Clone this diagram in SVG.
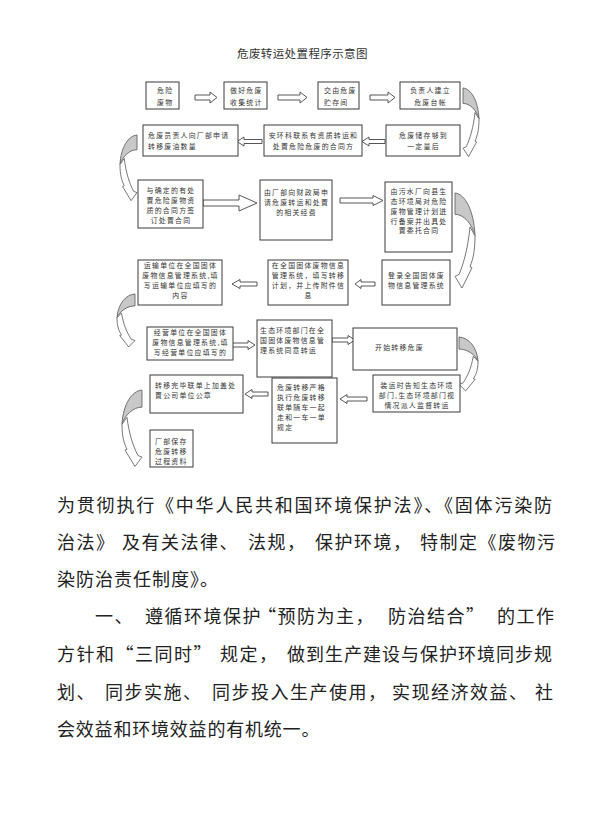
<svg xmlns="http://www.w3.org/2000/svg" xmlns:xlink="http://www.w3.org/1999/xlink" width="600" height="835" viewBox="0 0 600 835">
<style>
.box{fill:#fff;stroke:#3a3a3a;stroke-width:1}
.t{font-family:"Noto Sans CJK SC","Noto Sans",sans-serif;font-size:6.9px;letter-spacing:1.25px;fill:#333}
.c{text-anchor:middle}
.ar{fill:#fff;stroke:#444;stroke-width:0.9}
.cg{fill:#c8c8c8;stroke:#555;stroke-width:0.8}
.cw{fill:#fff;stroke:#555;stroke-width:0.8}
.title{font-family:"Noto Sans CJK SC",sans-serif;font-size:11.5px;fill:#333;letter-spacing:0.4px}
.body{font-family:"Noto Sans CJK SC",sans-serif;font-size:18px;fill:#222;letter-spacing:1.5px}
</style>
<defs>
<g id="curve">
<path class="cg" vector-effect="non-scaling-stroke" d="M0,0 C10,1 19,18 20,44 C17,32 9,22 0,22 Z"/>
<path class="cw" vector-effect="non-scaling-stroke" d="M20,44 C20,60 18,68 15,76 L17,77 L7,98 L0,86 L4,84 C9,72 13,56 15,35 Z"/>
</g>
</defs>
<rect width="600" height="835" fill="#fff"/>
<text class="title" x="237" y="58">危废转运处置程序示意图</text>

<g id="connectors">
<polygon class="ar" points="195,95 210,95 210,92 217,97.5 210,103 210,100 195,100"/>
<polygon class="ar" points="278,95 300,95 300,92 307,97.5 300,103 300,100 278,100"/>
<polygon class="ar" points="370,95 388,95 388,92 395,97.5 388,103 388,100 370,100"/>
<polygon class="ar" points="262,139.5 244,139.5 244,137 237,141.5 244,146 244,143.5 262,143.5"/>
<polygon class="ar" points="385,139.5 369,139.5 369,137 362,141.5 369,146 369,143.5 385,143.5"/>
<polygon class="ar" points="203,200 239,200 239,195 257,203 239,211 239,206 203,206"/>
<polygon class="ar" points="340,198 373,198 373,195.5 383,200.5 373,205.5 373,203 340,203"/>
<polygon class="ar" points="257,282 240,282 240,279.5 232,284 240,288.5 240,286 257,286"/>
<polygon class="ar" points="375,282 361,282 361,279.5 355,284 361,288.5 361,286 375,286"/>
<polygon class="ar" points="232,343 248,343 248,340.5 255,345 248,349.5 248,347 232,347"/>
<polygon class="ar" points="332,338 348,338 348,335.5 355,340 348,344.5 348,342 332,342"/>
<polygon class="ar" points="268,392 252,392 252,389.5 245,394 252,398.5 252,396 268,396"/>
<polygon class="ar" points="367,397 347,397 347,394.5 340,399 347,403.5 347,401 367,401"/>
<use xlink:href="#curve" transform="translate(463,88) scale(0.8,0.7)"/>
<use xlink:href="#curve" transform="translate(455,193) scale(1,0.97)"/>
<use xlink:href="#curve" transform="translate(459,337) scale(0.95,0.55)"/>
<use xlink:href="#curve" transform="translate(137,135) scale(-0.85,0.67)"/>
<use xlink:href="#curve" transform="translate(135,294) scale(-0.9,0.54)"/>
<use xlink:href="#curve" transform="translate(142,390) scale(-1,0.78)"/>
</g>

<g id="n1"><rect class="box" x="146" y="82" width="33" height="27"/>
<text class="t" x="157" y="93">危险</text><text class="t" x="157" y="104.5">废物</text></g>
<g id="n2"><rect class="box" x="224" y="82" width="43" height="27"/>
<text class="t" x="230" y="93">做好危废</text><text class="t" x="230" y="104.5">收集统计</text></g>
<g id="n3"><rect class="box" x="318" y="82" width="41" height="27"/>
<text class="t" x="324" y="93">交由危废</text><text class="t" x="324" y="104.5">贮存间</text></g>
<g id="n4"><rect class="box" x="400" y="82" width="60" height="27"/>
<text class="t c" x="430.5" y="93">负责人建立</text><text class="t c" x="430.5" y="104.5">危废台帐</text></g>

<g id="n5"><rect class="box" x="143" y="125" width="95" height="31"/>
<text class="t" x="148" y="138">危废员责人向厂部申请</text><text class="t" x="148" y="149">转移废油数量</text></g>
<g id="n6"><rect class="box" x="264" y="125" width="98" height="31"/>
<text class="t c" x="313.5" y="138">安环科联系有资质转运和</text><text class="t c" x="313.5" y="149">处置危险危废的合同方</text></g>
<g id="n7"><rect class="box" x="386" y="125" width="74" height="31"/>
<text class="t c" x="423.5" y="138">危废储存够到</text><text class="t c" x="423.5" y="149">一定量后</text></g>

<g id="n8"><rect class="box" x="138" y="180" width="65" height="48"/>
<text class="t c" x="171" y="193">与确定的有处</text><text class="t c" x="171" y="203">置危险废物资</text><text class="t c" x="171" y="213">质的合同方签</text><text class="t c" x="171" y="222.5">订处置合同</text></g>
<g id="n9"><rect class="box" x="260" y="180" width="72" height="60"/>
<text class="t c" x="296.5" y="195">由厂部向财政局申</text><text class="t c" x="296.5" y="205">请危废转运和处置</text><text class="t c" x="296.5" y="215">的相关经费</text></g>
<g id="n10"><rect class="box" x="385" y="182" width="67" height="70"/>
<text class="t c" x="419" y="194">由污水厂向县生</text><text class="t c" x="419" y="204">态环境局对危险</text><text class="t c" x="419" y="214">废物管理计划进</text><text class="t c" x="419" y="223.5">行备案并出具处</text><text class="t c" x="419" y="233">置委托合同</text></g>

<g id="n11"><rect class="box" x="138" y="260" width="84" height="45"/>
<text class="t c" x="180.5" y="268">运输单位在全国固体</text><text class="t c" x="180.5" y="278">废物信息管理系统,填</text><text class="t c" x="180.5" y="288">写运输单位应填写的</text><text class="t c" x="180.5" y="298">内容</text></g>
<g id="n12"><rect class="box" x="268" y="260" width="80" height="45"/>
<text class="t c" x="308.5" y="268">在全国固体废物信息</text><text class="t c" x="308.5" y="278">管理系统，填写转移</text><text class="t c" x="308.5" y="288">计划，并上传附件信</text><text class="t c" x="308.5" y="298">息</text></g>
<g id="n13"><rect class="box" x="382" y="260" width="68" height="45"/>
<text class="t c" x="416.5" y="278">登录全国固体废</text><text class="t c" x="416.5" y="288">物信息管理系统</text></g>

<g id="n14"><rect class="box" x="147" y="327" width="86" height="33"/>
<text class="t c" x="190.5" y="335">经营单位在全国固体</text><text class="t c" x="190.5" y="345">废物信息管理系统,填</text><text class="t c" x="190.5" y="355">写经营单位应填写的</text></g>
<g id="n15"><rect class="box" x="257" y="320" width="75" height="57"/>
<text class="t" x="260" y="333">生态环境部门在全</text><text class="t" x="260" y="343">国固体废物信息管</text><text class="t" x="260" y="353">理系统同意转运</text></g>
<g id="n16"><rect class="box" x="353" y="328" width="104" height="42"/>
<text class="t" x="375" y="350">开始转移危废</text></g>

<g id="n17"><rect class="box" x="150" y="375" width="93" height="38"/>
<text class="t" x="155" y="388">转移完毕联单上加盖处</text><text class="t" x="155" y="398">置公司单位公章</text></g>
<g id="n18"><rect class="box" x="272" y="378" width="65" height="65"/>
<text class="t" x="277" y="390">危废转移严格</text><text class="t" x="277" y="400">执行危废转移</text><text class="t" x="277" y="410">联单随车一起</text><text class="t" x="277" y="420">走和一车一单</text><text class="t" x="277" y="430">规定</text></g>
<g id="n19"><rect class="box" x="373" y="375" width="87" height="37"/>
<text class="t c" x="417" y="388">装运时告知生态环境</text><text class="t c" x="417" y="398">部门,生态环境部门视</text><text class="t c" x="417" y="408">情况派人监督转运</text></g>
<g id="n20"><rect class="box" x="150" y="430" width="43" height="37"/>
<text class="t" x="155" y="444">厂部保存</text><text class="t" x="155" y="454">危废转移</text><text class="t" x="155" y="464">过程资料</text></g>

<g id="body">
<text class="body" x="57" y="512" style="letter-spacing:1.8px">为贯彻执行《中华人民共和国环境保护法》、《固体污染防</text>
<text class="body" x="57" y="549">治法》</text>
<text class="body" x="122" y="549">及有关法律、</text>
<text class="body" x="248" y="549">法规，</text>
<text class="body" x="315" y="549">保护环境，</text>
<text class="body" x="420" y="549">特制定《废物污</text>
<text class="body" x="57" y="586" style="letter-spacing:1px">染防治责任制度》。</text>
<text class="body" x="95" y="623">一、</text>
<text class="body" x="145" y="623">遵循环境保护</text>
<text class="body" x="258" y="623">“预防为主，</text>
<text class="body" x="388" y="623">防治结合”</text>
<text class="body" x="497" y="623">的工作</text>
<text class="body" x="57" y="661">方针和“三同时”</text>
<text class="body" x="220" y="661">规定，</text>
<text class="body" x="287" y="661" style="letter-spacing:1px">做到生产建设与保护环境同步规</text>
<text class="body" x="57" y="699">划、</text>
<text class="body" x="105" y="699">同步实施、</text>
<text class="body" x="212" y="699">同步投入生产使用，</text>
<text class="body" x="392" y="699">实现经济效益、</text>
<text class="body" x="535" y="699">社</text>
<text class="body" x="57" y="736" style="letter-spacing:0.8px">会效益和环境效益的有机统一。</text>
</g>
</svg>
